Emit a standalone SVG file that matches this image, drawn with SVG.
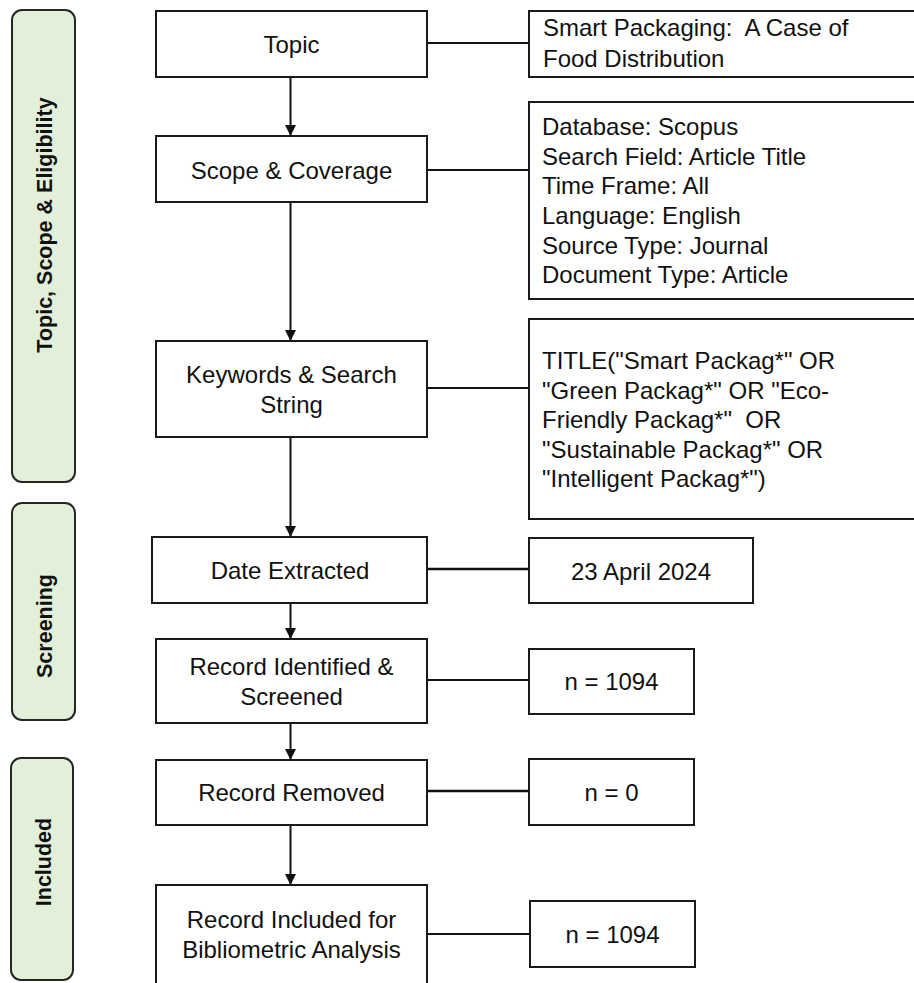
<svg xmlns="http://www.w3.org/2000/svg" width="914" height="983" viewBox="0 0 914 983">
<defs>
<style>
.bg{fill:#ffffff}
.box{fill:#ffffff;stroke:#1a1a1a;stroke-width:2}
.bar{fill:#e2efd9;stroke:#262626;stroke-width:2}
.t{font-family:"Liberation Sans",Arial,sans-serif;font-size:24px;fill:#111111}
.c{text-anchor:middle}
.bt{font-family:"Liberation Sans",Arial,sans-serif;font-size:21.5px;font-weight:bold;fill:#111111;text-anchor:middle}
.ln{stroke:#111111;stroke-width:2;fill:none}
</style>
<marker id="arr" viewBox="0 0 10 10" refX="10" refY="5" markerWidth="11" markerHeight="11" markerUnits="userSpaceOnUse" orient="auto">
<path d="M0,0 L10,5 L0,10 z" fill="#111111"/>
</marker>
</defs>
<rect class="bg" x="0" y="0" width="914" height="983"/>

<g id="phase-topic">
<rect class="bar" x="12" y="10" width="63" height="472" rx="10" ry="10"/>
<text class="bt" transform="translate(51.5,225) rotate(-90)">Topic, Scope &amp; Eligibility</text>
</g>
<g id="phase-screening">
<rect class="bar" x="12" y="503" width="63" height="217" rx="10" ry="10"/>
<text class="bt" transform="translate(51.5,626) rotate(-90)">Screening</text>
</g>
<g id="phase-included">
<rect class="bar" x="11" y="758" width="62" height="222" rx="10" ry="10"/>
<text class="bt" transform="translate(50.5,862) rotate(-90)">Included</text>
</g>

<g id="connectors">
<line class="ln" x1="290.5" y1="77" x2="290.5" y2="136" marker-end="url(#arr)"/>
<line class="ln" x1="290.5" y1="202" x2="290.5" y2="341" marker-end="url(#arr)"/>
<line class="ln" x1="290.5" y1="437" x2="290.5" y2="537" marker-end="url(#arr)"/>
<line class="ln" x1="290.5" y1="603" x2="290.5" y2="639" marker-end="url(#arr)"/>
<line class="ln" x1="290.5" y1="723" x2="290.5" y2="760" marker-end="url(#arr)"/>
<line class="ln" x1="290.5" y1="825" x2="290.5" y2="885" marker-end="url(#arr)"/>
<line class="ln" x1="427" y1="43" x2="529" y2="43"/>
<line class="ln" x1="427" y1="170" x2="529" y2="170"/>
<line class="ln" x1="427" y1="388" x2="529" y2="388"/>
<line class="ln" x1="427" y1="569" x2="529" y2="569" style="stroke-width:2.5"/>
<line class="ln" x1="427" y1="680" x2="529" y2="680"/>
<line class="ln" x1="427" y1="791" x2="529" y2="791" style="stroke-width:2.5"/>
<line class="ln" x1="427" y1="934" x2="530" y2="934"/>
</g>

<g id="topic">
<rect class="box" x="156" y="11" width="271" height="66"/>
<text class="t c" x="291.5" y="52.5">Topic</text>
</g>
<g id="topic-detail">
<rect class="box" x="529" y="11" width="392" height="66"/>
<text class="t" x="543" y="36">Smart Packaging:&#160; A Case of</text>
<text class="t" x="543" y="67">Food Distribution</text>
</g>

<g id="scope">
<rect class="box" x="156" y="136" width="271" height="66"/>
<text class="t c" x="291.5" y="179">Scope &amp; Coverage</text>
</g>
<g id="scope-detail">
<rect class="box" x="529" y="102" width="392" height="197"/>
<text class="t" x="542" y="135">Database: Scopus</text>
<text class="t" x="542" y="164.5">Search Field: Article Title</text>
<text class="t" x="542" y="194">Time Frame: All</text>
<text class="t" x="542" y="224">Language: English</text>
<text class="t" x="542" y="254">Source Type: Journal</text>
<text class="t" x="542" y="283">Document Type: Article</text>
</g>

<g id="keywords">
<rect class="box" x="156" y="341" width="271" height="96"/>
<text class="t c" x="291.5" y="383">Keywords &amp; Search</text>
<text class="t c" x="291.5" y="413">String</text>
</g>
<g id="keywords-detail">
<rect class="box" x="529" y="319" width="392" height="200"/>
<text class="t" x="542" y="369">TITLE("Smart Packag*" OR</text>
<text class="t" x="542" y="399">"Green Packag*" OR "Eco-</text>
<text class="t" x="542" y="428">Friendly Packag*"&#160; OR</text>
<text class="t" x="542" y="457.5">"Sustainable Packag*" OR</text>
<text class="t" x="542" y="487">"Intelligent Packag*")</text>
</g>

<g id="date-extracted">
<rect class="box" x="152" y="537" width="275" height="66"/>
<text class="t c" x="290" y="578.5">Date Extracted</text>
</g>
<g id="date-value">
<rect class="box" x="529" y="538" width="224" height="65"/>
<text class="t c" x="641" y="580">23 April 2024</text>
</g>

<g id="identified">
<rect class="box" x="156" y="639" width="271" height="84"/>
<text class="t c" x="291.5" y="675">Record Identified &amp;</text>
<text class="t c" x="291.5" y="705">Screened</text>
</g>
<g id="identified-n">
<rect class="box" x="529" y="649" width="165" height="65"/>
<text class="t c" x="611.5" y="690">n = 1094</text>
</g>

<g id="removed">
<rect class="box" x="156" y="760" width="271" height="65"/>
<text class="t c" x="291.5" y="800.5">Record Removed</text>
</g>
<g id="removed-n">
<rect class="box" x="529" y="759" width="165" height="66"/>
<text class="t c" x="611.5" y="800.5">n = 0</text>
</g>

<g id="included">
<rect class="box" x="156" y="885" width="271" height="110"/>
<text class="t c" x="291.5" y="928">Record Included for</text>
<text class="t c" x="291.5" y="958">Bibliometric Analysis</text>
</g>
<g id="included-n">
<rect class="box" x="530" y="901" width="165" height="66"/>
<text class="t c" x="612.5" y="942.5">n = 1094</text>
</g>
</svg>
